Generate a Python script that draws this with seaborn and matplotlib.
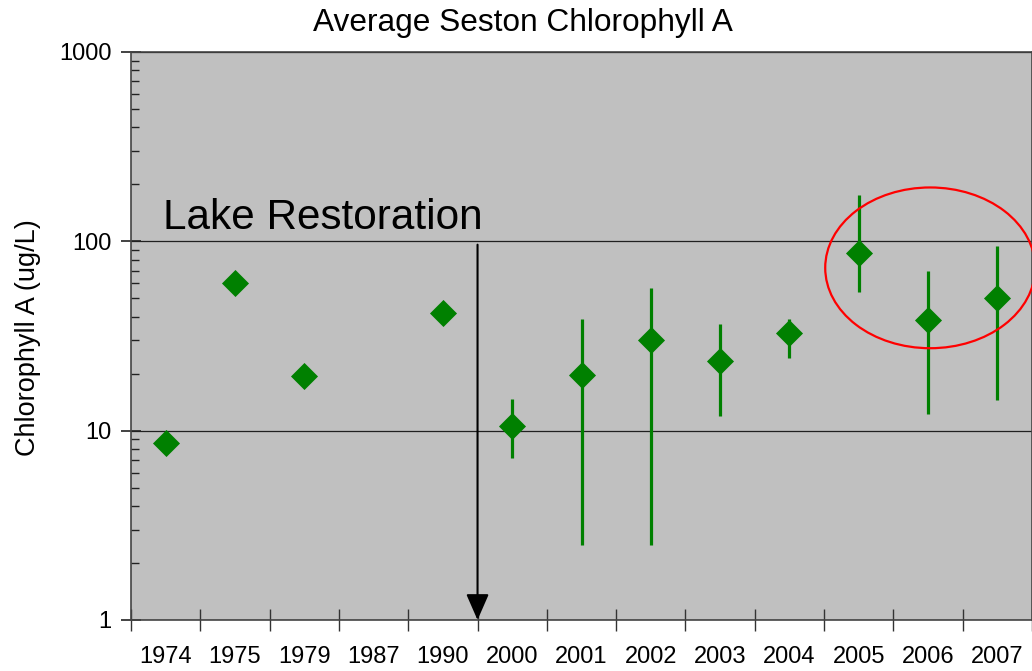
import numpy as np
import pandas as pd
import matplotlib
matplotlib.use("Agg")
import matplotlib.pyplot as plt
from matplotlib.patches import Ellipse
import seaborn as sns

years = ["1974", "1975", "1979", "1987", "1990", "2000", "2001", "2002",
         "2003", "2004", "2005", "2006", "2007"]
mean_chl = [8.6, 60, 19.5, np.nan, 42, 10.6, 19.7, 30, 23.3, 32.8, 87, 38.5, 50]
low_chl = [np.nan, np.nan, np.nan, np.nan, np.nan, 7.2, 2.5, 2.5, 12, 24.3, 54, 12.2, 14.6]
high_chl = [np.nan, np.nan, np.nan, np.nan, np.nan, 14.7, 39, 57, 36.5, 39, 176, 70, 94]

df = pd.DataFrame({"pos": np.arange(len(years)), "year": years,
                   "mean": mean_chl, "low": low_chl, "high": high_chl})

sns.set_style("white")
plt.rcParams["font.family"] = ["Liberation Sans", "DejaVu Sans"]
plt.rcParams["text.color"] = "black"
plt.rcParams["xtick.color"] = "#222222"
plt.rcParams["ytick.color"] = "#222222"
plt.rcParams["xtick.labelcolor"] = "black"
plt.rcParams["ytick.labelcolor"] = "black"

fig = plt.figure(figsize=(10.32, 6.71), dpi=100)
ax = fig.add_axes([131/1032, 1-620/671, 901/1032, 568/671])
ax.set_facecolor("#C0C0C0")

green = "#008000"
eb = df.dropna(subset=["low"])
ax.errorbar(eb["pos"], eb["mean"],
            yerr=[eb["mean"] - eb["low"], eb["high"] - eb["mean"]],
            fmt="none", ecolor=green, elinewidth=2.3, capsize=0, zorder=3)
sns.scatterplot(data=df.dropna(subset=["mean"]), x="pos", y="mean", marker="D",
                s=190, color=green, edgecolor=green, linewidth=0, ax=ax, zorder=4)

ax.set_yscale("log")
ax.set_ylim(1, 1000)
ax.set_xlim(-0.5, len(years) - 0.5)
ax.yaxis.grid(True, which="major", color="#202020", linewidth=0.9)
ax.set_axisbelow(True)

# x: boundary ticks, labels at centers
ax.set_xticks(np.arange(len(years) + 1) - 0.5)
ax.set_xticklabels([])
ax.set_xticks(np.arange(len(years)), minor=True)
ax.set_xticklabels(years, minor=True)
ax.tick_params(axis="x", which="major", bottom=True, direction="inout", length=16,
               width=1, color="#333333")
ax.tick_params(axis="x", which="minor", bottom=True, length=0, pad=19, labelsize=17,
               labelcolor="black")

ax.set_yticks([1, 10, 100, 1000])
ax.set_yticklabels(["1", "10", "100", "1000"])
ax.tick_params(axis="y", which="major", left=True, direction="inout", length=14, width=1.2,
               color="#222222", pad=7, labelsize=17, labelcolor="black")
ax.tick_params(axis="y", which="minor", left=True, direction="in", length=6, width=1,
               color="#222222")

for s in ["left", "bottom", "top", "right"]:
    ax.spines[s].set_color("#444444")
    ax.spines[s].set_linewidth(1.2)

ax.set_xlabel("")
ax.set_ylabel("")
fig.text(28/1032, 1-338/671, "Chlorophyll A (ug/L)", rotation=90, ha="center",
         va="center", fontsize=19.5, color="black")
fig.text(523/1032, 1-8/671, "Average Seston Chlorophyll A", ha="center", va="top",
         fontsize=22.8, color="black")

ax.text(-0.04, 116, "Lake Restoration", fontsize=30.4, ha="left", va="baseline",
        color="black")
ax.annotate("", xy=(4.5, 1.0), xytext=(4.5, 96),
            arrowprops=dict(arrowstyle="-|>,head_length=0.8,head_width=0.35",
                            mutation_scale=20, color="black", lw=1.5,
                            shrinkA=0, shrinkB=0),
            annotation_clip=False, zorder=5)

ell = Ellipse((0.887, 0.620), 0.233, 0.283, transform=ax.transAxes,
              fill=False, edgecolor="red", linewidth=1.6, clip_on=False, zorder=5)
ax.add_patch(ell)

fig.savefig("out.png", dpi=100)
